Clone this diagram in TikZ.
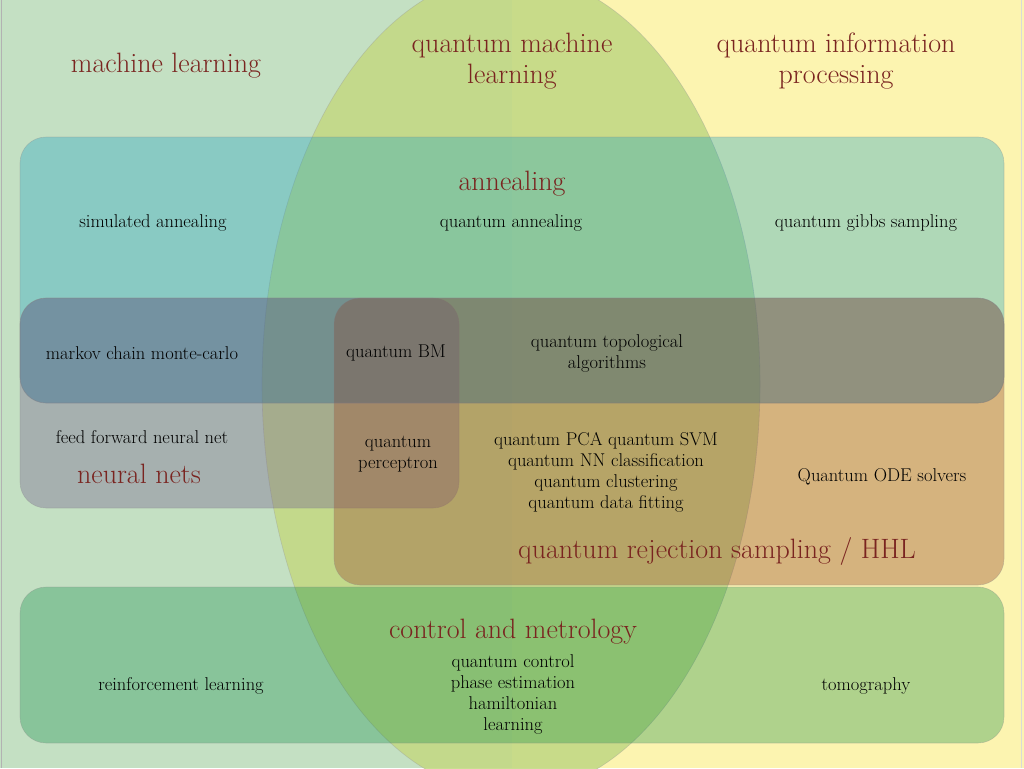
\documentclass[tikz,border=0pt]{standalone}
\usepackage{tikz}
\usetikzlibrary{positioning,backgrounds}
\usepackage{xcolor}
\definecolor{mlgreen}{HTML}{C4E0C3}
\definecolor{qipyellow}{HTML}{FCF4B0}
\definecolor{qmlolive}{HTML}{C3D985}
\definecolor{annealblue}{HTML}{0F9EC6}
\definecolor{nnpurple}{HTML}{7A6A92}
\definecolor{hhlbrown}{HTML}{9B5235}
\definecolor{mcmcslate}{HTML}{3A4E6A}
\definecolor{ctrlgreen}{HTML}{00853C}
\definecolor{titlered}{HTML}{7A2420}

\tikzset{
  area/.style={rounded corners=26pt, draw=black!45, draw opacity=0.35, line width=0.6pt},
  title/.style={text=titlered, font=\fontsize{28}{31}\selectfont, align=center, inner sep=0pt},
  item/.style={text=black, font=\fontsize{18.5}{21}\selectfont, align=center, inner sep=0pt}
}

\begin{document}
\begin{tikzpicture}[x=1pt, y=-1pt]
    \useasboundingbox (0,0) rectangle (1024,768);

    % Background halves
    \fill[mlgreen] (0,0) rectangle (512,768);
    \fill[qipyellow] (512,0) rectangle (1024,768);
    \draw[black!30, line width=1pt] (1,0) -- (1,768);
    \draw[black!15, line width=1pt] (1021,0) -- (1021,768);

    % Quantum machine learning ellipse
    \fill[qmlolive, fill opacity=0.9] (511,384) ellipse [x radius=249, y radius=410];
    \draw[black!40, draw opacity=0.4, line width=0.6pt] (511,384) ellipse [x radius=249, y radius=410];

    % Areas
    \path[area, fill=annealblue, fill opacity=0.32] (20,137) rectangle (1004,403);
    \path[area, fill=nnpurple, fill opacity=0.4] (20,298) rectangle (459,508);
    \path[area, fill=hhlbrown, fill opacity=0.4] (334,298) rectangle (1004,585);
    \path[area, fill=mcmcslate, fill opacity=0.2] (20,298) rectangle (1004,403);
    \path[area, fill=ctrlgreen, fill opacity=0.3] (20,587) rectangle (1004,743);

    % Titles
    \node[title] (ml) at (166,66) {machine learning};
    \node[title] (qml) at (512,61) {quantum machine\\learning};
    \node[title] (qip) at (836,61) {quantum information\\processing};
    \node[title] (anneal) at (512,184) {annealing};
    \node[title] (nn) at (139,474) {neural nets};
    \node[title] (hhl) at (717,551) {quantum rejection sampling / HHL};
    \node[title] (ctrl) at (513,632) {control and metrology};

    % Items
    \node[item] (sa) at (153,223) {simulated annealing};
    \node[item] (qa) at (511,223) {quantum annealing};
    \node[item] (qgs) at (866,223) {quantum gibbs sampling};
    \node[item] (mcmc) at (142,353) {markov chain monte-carlo};
    \node[item] (qbm) at (396,353) {quantum BM};
    \node[item] (qta) at (607,353) {quantum topological\\algorithms};
    \node[item] (ffnn) at (142,437) {feed forward neural net};
    \node[item] (qp) at (398,454) {quantum\\perceptron};
    \node[item] (qlin) at (606,472) {quantum PCA quantum SVM\\quantum NN classification\\quantum clustering\\quantum data fitting};
    \node[item] (ode) at (882,477) {Quantum ODE solvers};
    \node[item] (rl) at (181,686) {reinforcement learning};
    \node[item] (qc) at (513,694) {quantum control\\phase estimation\\hamiltonian\\learning};
    \node[item] (tomo) at (866,686) {tomography};
\end{tikzpicture}
\end{document}
